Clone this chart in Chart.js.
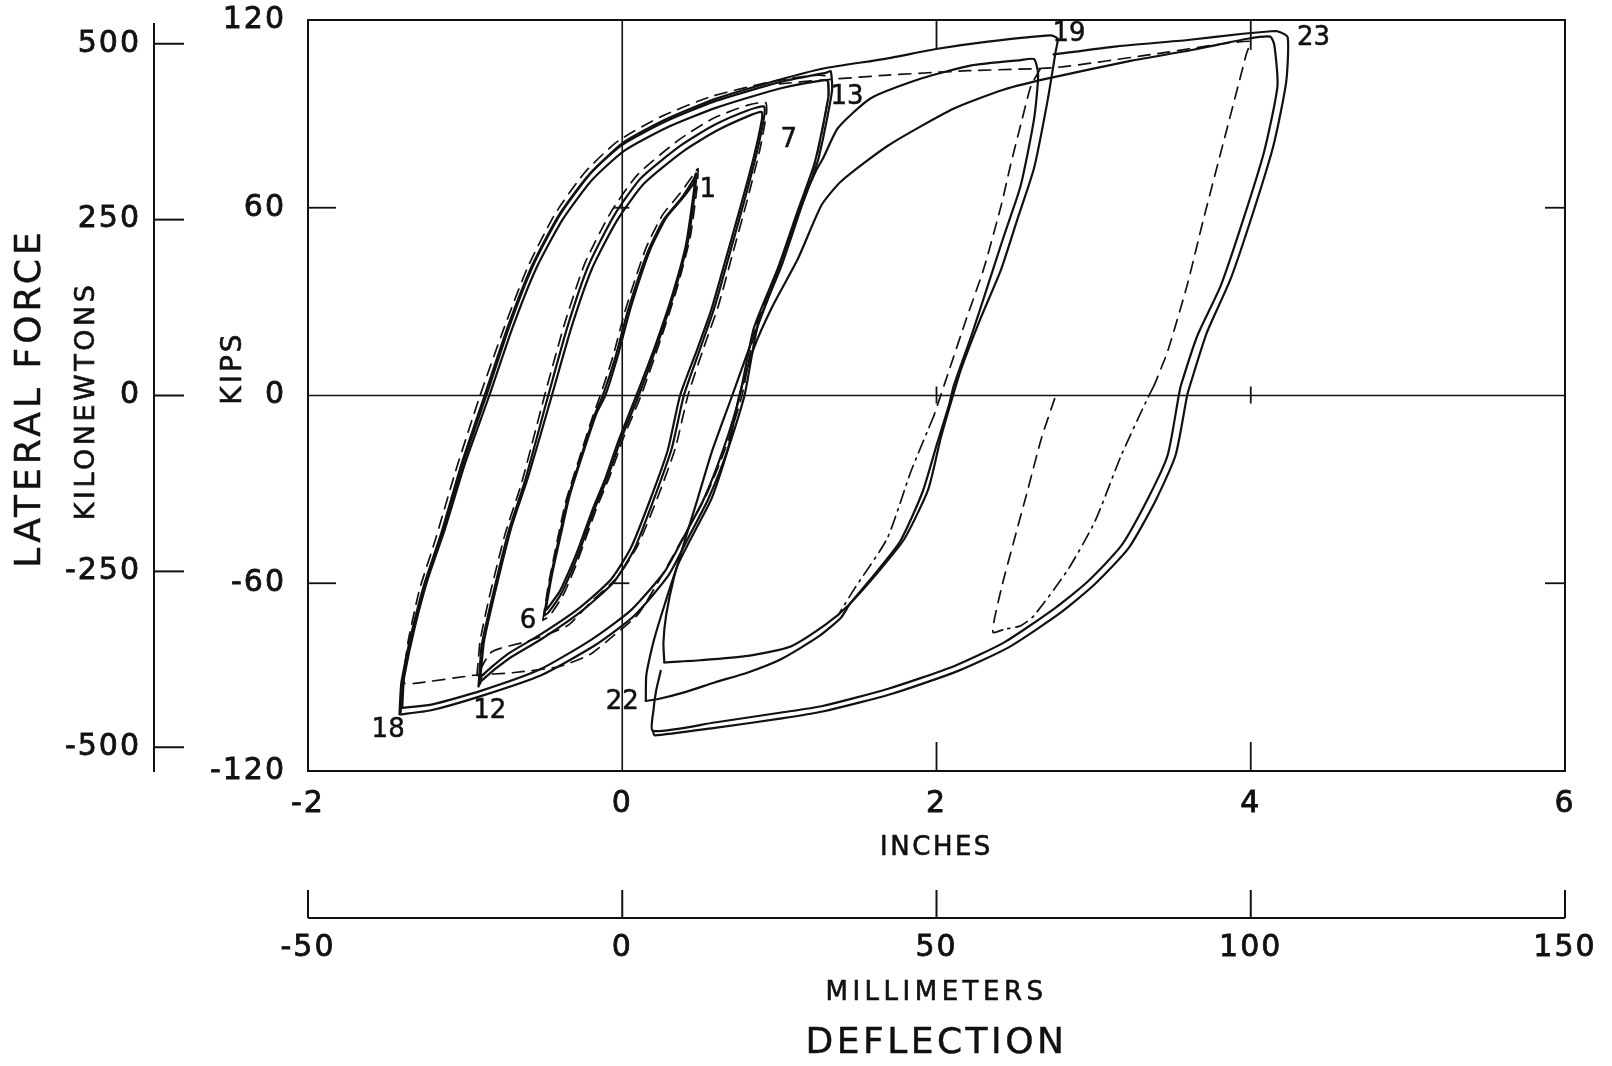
<!DOCTYPE html>
<html>
<head>
<meta charset="utf-8">
<title>Lateral force vs deflection</title>
<script src="https://cdn.jsdelivr.net/npm/chart.js@4"></script>
<style>
  html, body { margin: 0; padding: 0; background: #fff; }
  #wrap { width: 1612px; height: 1066px; }
</style>
</head>
<body>
<div id="wrap"><canvas id="c" width="1612" height="1066"></canvas></div>
<script>
// Axis tick values
const inchTicks = [-2, 0, 2, 4, 6];
const mmTicks = [-50, 0, 50, 100, 150];
const kipTicks = [-120, -60, 0, 60, 120];
const kNTicks = [-500, -250, 0, 250, 500];
const kNPerKip = 4.448;

// Hysteresis traces, [deflection (in), lateral force (kips)]
// Cycles 1-6
const loopA1 = [[-0.497,-70.3],[-0.455,-58.0],[-0.400,-45.0],[-0.346,-32.9],[-0.261,-19.4],[-0.176,-6.2],[-0.124,0],[-0.046,11.8],[0.039,27.6],[0.163,46.0],[0.268,56.5],[0.373,62.8],[0.458,69.4],[0.470,71.0],[0.462,65.0],[0.418,49.3],[0.333,33.2],[0.229,17.1],[0.105,0],[-0.007,-13.8],[-0.092,-26.0],[-0.176,-36.2],[-0.255,-47.3],[-0.307,-54.2],[-0.386,-63.1],[-0.471,-69.4],[-0.497,-70.3]];
const loopA2 = [[-0.488,-68.6],[-0.446,-57.0],[-0.390,-44.2],[-0.335,-32.0],[-0.250,-18.5],[-0.162,-5.5],[-0.108,0],[-0.030,12.4],[0.055,28.3],[0.176,46.4],[0.280,56.8],[0.382,62.9],[0.452,67.6],[0.462,69.2],[0.452,63.8],[0.405,48.0],[0.318,32.0],[0.212,16.2],[0.090,0],[-0.022,-14.2],[-0.107,-26.4],[-0.190,-36.6],[-0.268,-47.4],[-0.320,-54.0],[-0.398,-62.6],[-0.478,-68.2],[-0.488,-68.6]];
const loopADash = [[-0.505,-71.8],[-0.468,-60.0],[-0.414,-46.5],[-0.360,-34.0],[-0.276,-20.5],[-0.190,-7.0],[-0.140,0],[-0.062,12.0],[0.024,28.0],[0.150,47.0],[0.258,57.8],[0.368,64.6],[0.462,71.2],[0.482,72.5],[0.476,66.5],[0.432,50.5],[0.347,34.0],[0.244,17.8],[0.120,0],[0.008,-13.5],[-0.078,-25.6],[-0.162,-35.8],[-0.242,-47.0],[-0.296,-54.4],[-0.376,-63.8],[-0.464,-70.5],[-0.505,-71.8]];

// Cycles 7-12
const loopB1 = [[-0.915,-93.0],[-0.905,-86.0],[-0.895,-79.9],[-0.830,-65.1],[-0.725,-43.7],[-0.621,-27.6],[-0.471,0],[-0.346,22.4],[-0.216,41.4],[-0.052,57.5],[0.118,69.4],[0.373,79.9],[0.588,86.5],[0.797,91.1],[0.902,92.4],[0.905,89.7],[0.856,77.6],[0.771,61.1],[0.680,44.7],[0.588,28.3],[0.497,15.1],[0.392,0],[0.314,-17.1],[0.203,-32.9],[0.078,-49.0],[-0.052,-59.5],[-0.261,-69.0],[-0.516,-77.9],[-0.725,-84.2],[-0.895,-91.1],[-0.915,-93.0]];
const loopB2 = [[-0.905,-91.2],[-0.893,-84.8],[-0.880,-78.6],[-0.813,-63.6],[-0.706,-42.2],[-0.600,-26.2],[-0.448,0],[-0.322,22.0],[-0.192,40.6],[-0.030,56.2],[0.140,67.8],[0.392,78.2],[0.600,84.6],[0.798,89.2],[0.888,90.6],[0.888,88.0],[0.838,76.4],[0.752,60.2],[0.660,43.8],[0.568,27.6],[0.476,14.6],[0.368,0],[0.290,-17.4],[0.180,-33.0],[0.056,-48.6],[-0.072,-58.8],[-0.276,-68.0],[-0.528,-76.6],[-0.734,-82.8],[-0.893,-89.6],[-0.905,-91.2]];
const loopBDash = [[-0.925,-89.5],[-0.915,-84.0],[-0.905,-78.5],[-0.846,-64.4],[-0.744,-44.0],[-0.642,-28.2],[-0.494,0],[-0.368,22.8],[-0.238,42.2],[-0.072,58.6],[0.098,70.6],[0.358,81.6],[0.580,88.6],[0.800,92.8],[0.912,93.6],[0.918,90.2],[0.874,78.2],[0.790,61.4],[0.700,44.8],[0.610,28.4],[0.518,15.2],[0.418,0],[0.338,-16.8],[0.228,-32.2],[0.100,-47.8],[-0.030,-58.0],[-0.200,-66.0],[-0.350,-73.6],[-0.600,-78.5],[-0.830,-81.9],[-0.925,-89.5]];

// Cycles 13-18
const loopC1 = [[-1.418,-101.9],[-1.412,-96.0],[-1.405,-91.4],[-1.340,-75.6],[-1.255,-59.5],[-1.150,-43.7],[-1.026,-22.4],[-0.876,0],[-0.725,22.4],[-0.575,41.4],[-0.405,57.5],[-0.216,70.3],[-0.007,79.9],[0.268,87.4],[0.588,94.0],[1.013,100.3],[1.300,103.2],[1.327,103.6],[1.335,97.3],[1.248,75.6],[1.137,59.8],[1.013,41.4],[0.863,22.4],[0.778,0],[0.673,-17.1],[0.549,-32.9],[0.418,-45.7],[0.294,-57.5],[0.078,-70.3],[-0.176,-79.9],[-0.516,-89.4],[-0.895,-96.0],[-1.216,-100.6],[-1.405,-101.9],[-1.418,-101.9]];
const loopC2 = [[-1.400,-99.8],[-1.395,-94.5],[-1.388,-90.0],[-1.322,-74.4],[-1.236,-58.4],[-1.128,-42.6],[-1.000,-21.6],[-0.846,0],[-0.696,22.0],[-0.548,40.6],[-0.380,56.2],[-0.194,68.8],[0.012,78.2],[0.282,85.6],[0.600,92.0],[1.010,98.2],[1.288,100.8],[1.310,100.4],[1.312,95.4],[1.226,74.6],[1.114,58.6],[0.990,40.6],[0.838,21.6],[0.748,0],[0.642,-17.4],[0.520,-33.0],[0.392,-45.2],[0.268,-56.4],[0.056,-68.6],[-0.196,-78.0],[-0.526,-87.6],[-0.900,-94.4],[-1.215,-98.8],[-1.400,-99.8]];
const loopCDash = [[-1.392,-92.0],[-1.378,-84.0],[-1.360,-77.8],[-1.290,-62.0],[-1.190,-46.2],[-1.062,-24.4],[-0.905,0],[-0.752,21.6],[-0.600,41.2],[-0.430,57.8],[-0.240,71.2],[-0.030,81.2],[0.250,89.2],[0.570,95.6],[1.000,100.8],[1.290,102.2],[1.312,96.2],[1.232,75.2],[1.122,59.2],[0.996,41.0],[0.850,22.0],[0.762,0],[0.656,-17.0],[0.532,-32.2],[0.400,-44.2],[0.270,-56.0],[0.100,-70.0],[-0.050,-76.5],[-0.200,-82.6],[-0.400,-86.6],[-0.700,-88.6],[-0.940,-89.4],[-1.320,-92.0],[-1.392,-92.0]];

// Cycles 19-22
const cycle19 = [[-1.410,-101.2],[-1.400,-92.0],[-1.330,-75.2],[-1.245,-59.0],[-1.140,-43.2],[-1.015,-22.0],[-0.865,0],[-0.715,22.6],[-0.565,41.8],[-0.395,57.9],[-0.205,70.8],[0.000,80.6],[0.275,88.2],[0.594,94.8],[1.000,100.9],[1.281,104.5],[1.673,107.6],[2.007,110.8],[2.327,113.1],[2.725,115.1],[2.771,114.1],[2.758,109.8],[2.706,94.0],[2.621,72.7],[2.516,56.5],[2.412,40.4],[2.281,24.7],[2.157,8.5],[2.105,0],[2.026,-13.8],[1.948,-29.9],[1.797,-45.7],[1.627,-56.5],[1.438,-67.1],[1.300,-73.0],[1.072,-80.2],[0.800,-83.2],[0.500,-84.6],[0.268,-85.3]];
const cycle21 = [[0.268,-85.3],[0.262,-79.0],[0.280,-70.0],[0.330,-58.0],[0.400,-46.0],[0.480,-33.0],[0.570,-18.0],[0.700,0],[0.800,14.0],[0.920,30.0],[1.040,47.0],[1.140,61.0],[1.230,71.5],[1.280,76.0],[1.373,85.5],[1.582,95.0],[1.902,101.3],[2.222,105.5],[2.536,107.2],[2.621,107.5],[2.647,102.5],[2.621,88.4],[2.536,67.1],[2.431,51.3],[2.327,35.2],[2.222,19.1],[2.111,3.3],[2.080,-3.0],[2.000,-16.0],[1.910,-31.0],[1.770,-46.5],[1.600,-57.5],[1.450,-66.5],[1.392,-71.0],[1.250,-77.0],[1.013,-84.2],[0.800,-88.5],[0.588,-91.7],[0.400,-94.8],[0.229,-97.0],[0.150,-97.6]];
const dash19 = [[2.660,104.3],[2.601,98.9],[2.536,86.5],[2.471,73.6],[2.412,60.8],[2.300,40.4],[2.190,24.5],[2.080,8.0],[1.984,-6.4]];
const dashDot19 = [[1.984,-6.4],[1.837,-24.3],[1.686,-45.7],[1.477,-61.8],[1.373,-70.3]];

// Cycle 23 and following
const cycle23a = [[0.150,-97.6],[0.152,-90.0],[0.163,-86.5],[0.203,-77.9],[0.268,-67.1],[0.353,-54.2],[0.458,-43.7],[0.569,-32.9],[0.673,-17.1],[0.745,0],[0.837,15.1],[0.954,28.3],[1.118,43.7],[1.268,60.8],[1.392,68.4],[1.693,79.9],[2.111,91.7],[2.431,97.8],[2.725,101.5],[3.242,107.0],[3.634,110.5],[3.980,114.0],[4.124,114.7],[4.150,112.0],[4.170,98.9],[4.085,77.9],[3.954,56.5],[3.810,35.2],[3.660,19.1],[3.556,3.3],[3.542,0],[3.471,-19.1],[3.346,-32.9],[3.176,-48.0],[2.961,-59.5],[2.752,-68.0],[2.431,-78.9],[2.111,-86.5],[1.693,-93.7],[1.268,-99.3],[1.013,-101.3],[0.588,-104.5],[0.196,-107.2],[0.200,-100.0],[0.215,-94.5],[0.245,-88.0]];
const cycle23b = [[2.745,109.0],[3.150,111.6],[3.600,113.6],[3.950,115.6],[4.130,116.4],[4.170,116.4],[4.235,114.5],[4.225,100.0],[4.145,80.0],[4.012,58.0],[3.870,37.0],[3.720,20.0],[3.612,3.0],[3.595,0],[3.522,-19.0],[3.398,-33.2],[3.225,-48.6],[3.005,-60.4],[2.790,-69.4],[2.462,-80.4],[2.138,-88.0],[1.712,-95.4],[1.275,-101.0],[1.015,-103.2],[0.590,-106.2],[0.205,-108.6],[0.196,-107.2]];
const envelope23Dash = [[1.000,99.6],[1.268,100.8],[1.693,102.4],[2.200,103.8],[2.758,104.8],[3.400,109.2],[3.990,113.2],[3.970,108.8],[3.850,85.5],[3.700,56.5],[3.595,35.2],[3.471,14.1],[3.386,3.3]];
const dashDot23 = [[3.386,3.3],[3.333,-2.0],[3.176,-19.1],[3.007,-40.4],[2.837,-55.6],[2.621,-70.3],[2.536,-73.6],[2.444,-74.6]];
const dashMid = [[2.752,-1.0],[2.667,-13.8],[2.582,-29.9],[2.497,-45.7],[2.412,-61.8],[2.359,-75.6],[2.450,-74.4]];

// Cycle numbers written beside the peaks
const cycleLabels = [
  { text: '1',  x: 0.545, y: 65.7 },
  { text: '6',  x: -0.600, y: -72.3 },
  { text: '7',  x: 1.060, y: 81.5 },
  { text: '12', x: -0.843, y: -100.9 },
  { text: '13', x: 1.431, y: 95.3 },
  { text: '18', x: -1.490, y: -106.9 },
  { text: '19', x: 2.843, y: 115.4 },
  { text: '22', x: 0.0, y: -98.0 },
  { text: '23', x: 4.399, y: 114.1 }
];

const INK = '#111';
const FONT = '"DejaVu Sans", "Liberation Sans", sans-serif';

const toXY = pts => pts.map(p => ({ x: p[0], y: p[1] }));
const solid = (label, pts) => ({ label, data: toXY(pts), borderColor: INK, borderWidth: 2.2, borderDash: [] });
const dashed = (label, pts) => ({ label, data: toXY(pts), borderColor: INK, borderWidth: 1.7, borderDash: [12, 8] });
const dashDot = (label, pts) => ({ label, data: toXY(pts), borderColor: INK, borderWidth: 1.7, borderDash: [13, 6, 2, 6] });

const datasets = [
  solid('1-6 a', loopA1), solid('1-6 b', loopA2), dashed('1-6 dashed', loopADash),
  solid('7-12 a', loopB1), solid('7-12 b', loopB2), dashed('7-12 dashed', loopBDash),
  solid('13-18 a', loopC1), solid('13-18 b', loopC2), dashed('13-18 dashed', loopCDash),
  solid('19-20', cycle19), solid('21-22', cycle21), dashed('19 dashed', dash19), dashDot('19 dash-dot', dashDot19),
  solid('23 a', cycle23a), solid('23 b', cycle23b), dashed('23 dashed', envelope23Dash),
  dashDot('23 dash-dot', dashDot23), dashed('unloading dashed', dashMid)
];

function line(ctx, x1, y1, x2, y2) {
  ctx.beginPath(); ctx.moveTo(x1, y1); ctx.lineTo(x2, y2); ctx.stroke();
}
function text(ctx, str, x, y, size, rot, spacing, stroke) {
  ctx.save();
  ctx.translate(x, y);
  if (rot) ctx.rotate(rot);
  ctx.font = size + 'px ' + FONT;
  if ('letterSpacing' in ctx) ctx.letterSpacing = (spacing || 0) + 'px';
  ctx.fillStyle = INK;
  ctx.strokeStyle = INK;
  ctx.textAlign = 'center';
  ctx.textBaseline = 'middle';
  ctx.fillText(str, 0, 0);
  if (stroke) { ctx.lineWidth = stroke; ctx.strokeText(str, 0, 0); }
  ctx.restore();
}

// Frame, reference lines, secondary axes, titles and cycle numbers
const decorations = {
  id: 'decorations',
  beforeDraw(chart) {
    if ('letterSpacing' in chart.ctx) chart.ctx.letterSpacing = '2px';
  },
  beforeDatasetsDraw(chart) {
    const { ctx, chartArea: a, scales } = chart;
    const sx = scales.x, sy = scales.y;
    ctx.save();
    ctx.strokeStyle = INK;
    ctx.lineWidth = 2;
    ctx.strokeRect(a.left, a.top, a.right - a.left, a.bottom - a.top);
    const y0 = sy.getPixelForValue(0), x0 = sx.getPixelForValue(0);
    ctx.lineWidth = 1.6;
    line(ctx, a.left, y0, a.right, y0);
    line(ctx, x0, a.top, x0, a.bottom);
    ctx.lineWidth = 1.8;
    [-60, 60].forEach(v => {
      const py = sy.getPixelForValue(v);
      line(ctx, a.left, py, a.left + 28, py);
      line(ctx, a.right - 20, py, a.right, py);
      line(ctx, x0 - 9, py, x0 + 7, py);
    });
    [2, 4].forEach(v => {
      const px = sx.getPixelForValue(v);
      line(ctx, px, a.bottom, px, a.bottom - 29);
      line(ctx, px, a.top, px, a.top + 30);
      line(ctx, px, y0 - 9, px, y0 + 8);
    });
    ctx.restore();
  },
  afterDraw(chart) {
    const { ctx, chartArea: a, scales } = chart;
    const sx = scales.x, sy = scales.y, smm = scales.xmm, skn = scales.ykn;
    ctx.save();
    ctx.strokeStyle = INK;
    ctx.lineWidth = 2;
    // kilonewton axis
    const kx = skn.right;
    line(ctx, kx, a.top + 3, kx, a.bottom + 1);
    kNTicks.forEach(v => {
      const py = skn.getPixelForValue(v);
      line(ctx, kx, py, kx + 30, py);
    });
    // millimeter axis
    const my = smm.top;
    line(ctx, a.left, my, a.right, my);
    mmTicks.forEach(v => {
      const px = smm.getPixelForValue(v);
      line(ctx, px, my, px, my - 28);
    });
    ctx.restore();

    const cx = (a.left + a.right) / 2;
    text(ctx, 'INCHES', cx, 848, 26, 0, 2.5, 0.6);
    text(ctx, 'MILLIMETERS', cx, 993, 26, 0, 4.5, 0.6);
    text(ctx, 'DEFLECTION', cx, 1044, 36, 0, 3.5, 0.5);
    text(ctx, 'LATERAL FORCE', 31, 398, 36, -Math.PI / 2, 4, 0.5);
    text(ctx, 'KILONEWTONS', 87, 401, 27, -Math.PI / 2, 3.5, 0.6);
    text(ctx, 'KIPS', 234, 368, 28, -Math.PI / 2, 3, 0.6);

    cycleLabels.forEach(l => {
      text(ctx, l.text, sx.getPixelForValue(l.x), sy.getPixelForValue(l.y), 26, 0, 0, 0.5);
    });
  }
};

const tickFont = { family: FONT, size: 30 };
const noEdgePadding = s => { s.paddingTop = 0; s.paddingBottom = 0; s.paddingLeft = 0; s.paddingRight = 0; };
const tickStyle = pad => ({ font: tickFont, color: INK, padding: pad, maxRotation: 0, autoSkip: false, textStrokeColor: INK, textStrokeWidth: 0.8 });

new Chart(document.getElementById('c'), {
  type: 'scatter',
  data: { datasets },
  options: {
    responsive: false,
    animation: false,
    devicePixelRatio: 1,
    showLine: true,
    layout: { padding: { left: 0, right: 47, top: 20, bottom: 0 } },
    elements: {
      point: { radius: 0, hoverRadius: 0 },
      line: { tension: 0.2, fill: false, borderCapStyle: 'round', borderJoinStyle: 'round' }
    },
    plugins: { legend: { display: false }, tooltip: { enabled: false } },
    scales: {
      x: {
        type: 'linear', position: 'bottom', weight: 0,
        min: inchTicks[0], max: inchTicks[inchTicks.length - 1],
        afterBuildTicks: s => { s.ticks = inchTicks.map(v => ({ value: v })); },
        afterFit: s => { s.height = 147; noEdgePadding(s); },
        grid: { display: false, drawTicks: false, tickLength: 0 },
        border: { display: false },
        ticks: tickStyle(15)
      },
      xmm: {
        type: 'linear', position: 'bottom', weight: 1,
        min: mmTicks[0], max: mmTicks[mmTicks.length - 1],
        afterBuildTicks: s => { s.ticks = mmTicks.map(v => ({ value: v })); },
        afterFit: s => { s.height = 148; noEdgePadding(s); },
        grid: { display: false, drawTicks: false, tickLength: 0 },
        border: { display: false },
        ticks: tickStyle(12)
      },
      y: {
        type: 'linear', position: 'left', weight: 0,
        min: kipTicks[0], max: kipTicks[kipTicks.length - 1],
        afterBuildTicks: s => { s.ticks = kipTicks.map(v => ({ value: v })); },
        afterFit: s => { s.width = 154; noEdgePadding(s); },
        grid: { display: false, drawTicks: false, tickLength: 0 },
        border: { display: false },
        ticks: tickStyle(22)
      },
      ykn: {
        type: 'linear', position: 'left', weight: 1,
        min: kipTicks[0] * kNPerKip, max: kipTicks[kipTicks.length - 1] * kNPerKip,
        afterBuildTicks: s => { s.ticks = kNTicks.map(v => ({ value: v })); },
        afterFit: s => { s.width = 154; noEdgePadding(s); },
        grid: { display: false, drawTicks: false, tickLength: 0 },
        border: { display: false },
        ticks: tickStyle(13)
      }
    }
  },
  plugins: [decorations]
});
</script>
</body>
</html>
